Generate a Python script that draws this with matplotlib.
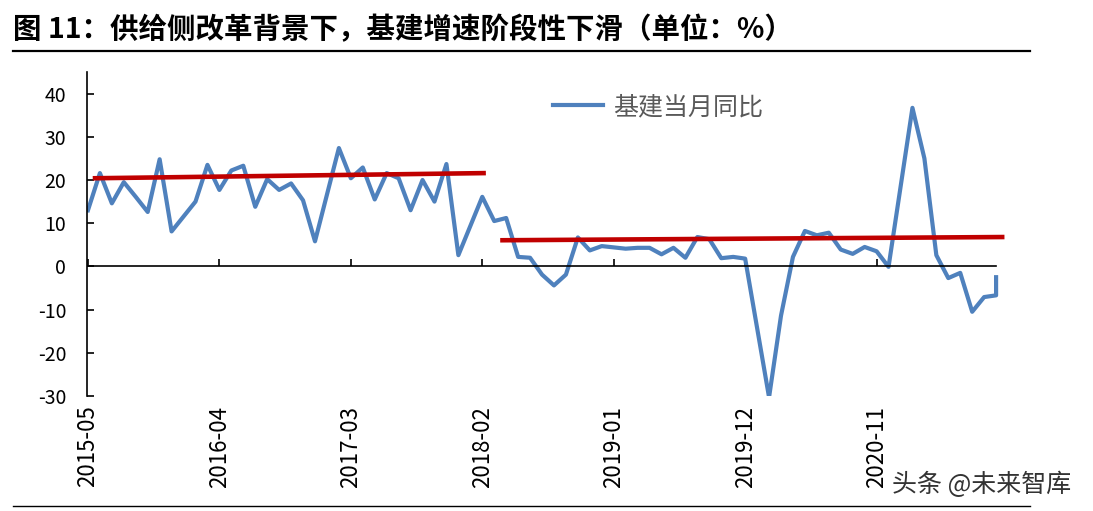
import numpy as np
import matplotlib.pyplot as plt
from matplotlib.lines import Line2D

plt.rcParams['font.family'] = ['Noto Sans CJK SC', 'DejaVu Sans']
plt.rcParams['axes.unicode_minus'] = False

# 基建当月同比 (%), 1月数据缺失
months = [
    '2015-05', '2015-06', '2015-07', '2015-08', '2015-09', '2015-10', '2015-11', '2015-12',
    '2016-02', '2016-03', '2016-04', '2016-05', '2016-06', '2016-07', '2016-08', '2016-09', '2016-10', '2016-11', '2016-12',
    '2017-02', '2017-03', '2017-04', '2017-05', '2017-06', '2017-07', '2017-08', '2017-09', '2017-10', '2017-11', '2017-12',
    '2018-02', '2018-03', '2018-04', '2018-05', '2018-06', '2018-07', '2018-08', '2018-09', '2018-10', '2018-11', '2018-12',
    '2019-02', '2019-03', '2019-04', '2019-05', '2019-06', '2019-07', '2019-08', '2019-09', '2019-10', '2019-11', '2019-12',
    '2020-02', '2020-03', '2020-04', '2020-05', '2020-06', '2020-07', '2020-08', '2020-09', '2020-10', '2020-11', '2020-12',
    '2021-02', '2021-03', '2021-04', '2021-05', '2021-06', '2021-07', '2021-08', '2021-09', '2021-09',
]
values = [
    13.0, 21.6, 14.6, 19.5, 16.1, 12.6, 24.8, 8.1,
    15.0, 23.5, 17.7, 22.2, 23.3, 13.8, 20.2, 17.7, 19.2, 15.3, 5.8,
    27.4, 20.4, 22.9, 15.5, 21.6, 20.4, 13.0, 20.0, 15.0, 23.7, 2.6,
    16.1, 10.5, 11.2, 2.2, 2.0, -1.9, -4.4, -1.9, 6.7, 3.7, 4.7,
    4.1, 4.3, 4.3, 2.8, 4.3, 2.0, 6.8, 6.3, 1.9, 2.2, 1.8,
    -30.3, -11.4, 2.2, 8.2, 7.2, 7.8, 3.9, 2.9, 4.5, 3.5, -0.1,
    36.7, 25.0, 2.6, -2.7, -1.5, -10.5, -7.1, -6.7, -2.5,
]

tick_labels = ['2015-05', '2016-04', '2017-03', '2018-02', '2019-01', '2019-12', '2020-11']

# 两段趋势线 (月序号, %)
trend1_x = [0.4, 33.3]
trend1_y = [20.4, 21.6]
trend2_x = [34.5, 76.7]
trend2_y = [6.05, 6.8]

title = '图 11：供给侧改革背景下，基建增速阶段性下滑（单位：%）'


def month_index(s):
    y, m = s.split('-')
    return (int(y) - 2015) * 12 + int(m) - 5


x = [month_index(m) for m in months]
tick_pos = [month_index(t) for t in tick_labels]

W, H = 1093, 511
fig = plt.figure(figsize=(W / 100, H / 100), dpi=100)
ax = fig.add_axes([87 / W, (H - 396) / H, 930 / W, 324 / H])

line, = ax.plot(x, values, color='#4F81BD', lw=3.0)
ax.plot(trend1_x, trend1_y, color='#C00000', lw=3.3, solid_capstyle='butt')
ax.plot(trend2_x, trend2_y, color='#C00000', lw=3.3, solid_capstyle='butt')

ax.set_xlim(-0.08, 77.75)
ax.set_ylim(-30, 45)
ax.set_yticks(range(-30, 41, 10))
ax.set_xticks(tick_pos)

for s in ['top', 'right']:
    ax.spines[s].set_visible(False)
ax.spines['left'].set_linewidth(1.2)
ax.spines['bottom'].set_position(('data', 0))
ax.spines['bottom'].set_bounds(0, 76)
ax.spines['bottom'].set_linewidth(1.2)

ax.tick_params(axis='y', direction='in', length=5, width=1.2, pad=15, labelsize=14)
ax.tick_params(axis='x', direction='in', length=5, width=1.2, labelbottom=False)

sec = ax.secondary_xaxis(0)
sec.set_xticks(tick_pos, labels=tick_labels, rotation=90)
sec.tick_params(length=0, pad=7, labelsize=16)
sec.spines['bottom'].set_visible(False)

leg = ax.legend([line], ['基建当月同比'], loc='center left', bbox_to_anchor=(0.501, 0.892),
                frameon=False, fontsize=18, borderpad=0, borderaxespad=0,
                handlelength=2.0, handletextpad=0.4)
for t in leg.get_texts():
    t.set_color('#595959')

fig.text(13 / W, 1 - 30 / H, title, fontsize=20.5, fontweight='bold', va='center')
fig.add_artist(Line2D([13 / W, 1030 / W], [1 - 51 / H] * 2, color='black', lw=1.6))
fig.add_artist(Line2D([13 / W, 1030 / W], [1 - 506 / H] * 2, color='black', lw=1.0))
fig.text(892 / W, 1 - 485 / H, '头条 @未来智库', fontsize=18, color='#333333', va='center')

fig.savefig('out.png', dpi=100)
